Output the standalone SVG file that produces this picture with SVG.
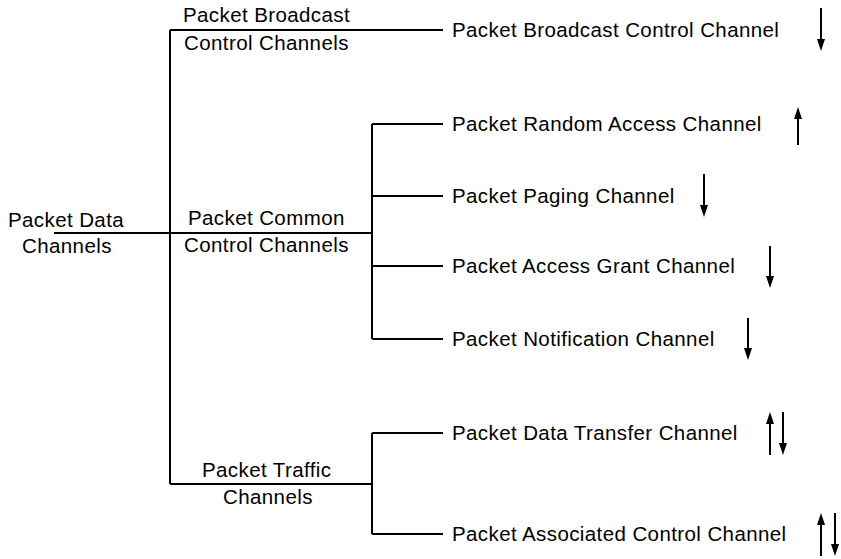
<svg xmlns="http://www.w3.org/2000/svg" width="841" height="559" viewBox="0 0 841 559">
<style>
text{font-family:"Liberation Sans",Arial,Helvetica,sans-serif;font-size:20.5px;letter-spacing:0.4px;fill:#000}
.ln{stroke:#000;stroke-width:2;fill:none}
.ar{stroke:#000;stroke-width:2;fill:none;marker-end:url(#ah)}
</style>
<defs>
<marker id="ah" markerWidth="12" markerHeight="8" refX="1" refY="4" orient="auto" markerUnits="userSpaceOnUse" viewBox="0 0 12 8">
<path d="M0,0 L12,4 L0,8 Z" fill="#000"/>
</marker>
</defs>
<g id="connectors">
<path class="ln" d="M54,233 H372"/>
<path class="ln" d="M170,30 V484"/>
<path class="ln" d="M170,30 H443"/>
<path class="ln" d="M372,124 V339"/>
<path class="ln" d="M372,124 H443 M372,196 H443 M372,266 H443 M372,339 H443"/>
<path class="ln" d="M170,484 H372"/>
<path class="ln" d="M372,433 V534"/>
<path class="ln" d="M372,433 H443 M372,534 H443"/>
</g>
<g id="root"><text x="8" y="227">Packet Data</text><text x="22" y="253">Channels</text></g>
<g id="pbcch-group"><text x="183" y="22">Packet Broadcast</text><text x="184" y="50">Control Channels</text></g>
<g id="pccch-group"><text x="188" y="225">Packet Common</text><text x="184" y="252">Control Channels</text></g>
<g id="ptch-group"><text x="202" y="477">Packet Traffic</text><text x="223" y="504">Channels</text></g>
<g id="pbcch"><text x="452" y="37">Packet Broadcast Control Channel</text><path class="ar" d="M821,8 V40"/></g>
<g id="prach"><text x="452" y="131">Packet Random Access Channel</text><path class="ar" d="M798,145 V118"/></g>
<g id="ppch"><text x="452" y="203">Packet Paging Channel</text><path class="ar" d="M704,174 V206"/></g>
<g id="pagch"><text x="452" y="273">Packet Access Grant Channel</text><path class="ar" d="M770,246 V277"/></g>
<g id="pnch"><text x="452" y="346">Packet Notification Channel</text><path class="ar" d="M748,318 V349"/></g>
<g id="pdtch"><text x="452" y="440">Packet Data Transfer Channel</text><path class="ar" d="M770,455 V423"/><path class="ar" d="M783,412 V444"/></g>
<g id="pacch"><text x="452" y="541">Packet Associated Control Channel</text><path class="ar" d="M821,556 V524"/><path class="ar" d="M835,513 V545"/></g>
</svg>
